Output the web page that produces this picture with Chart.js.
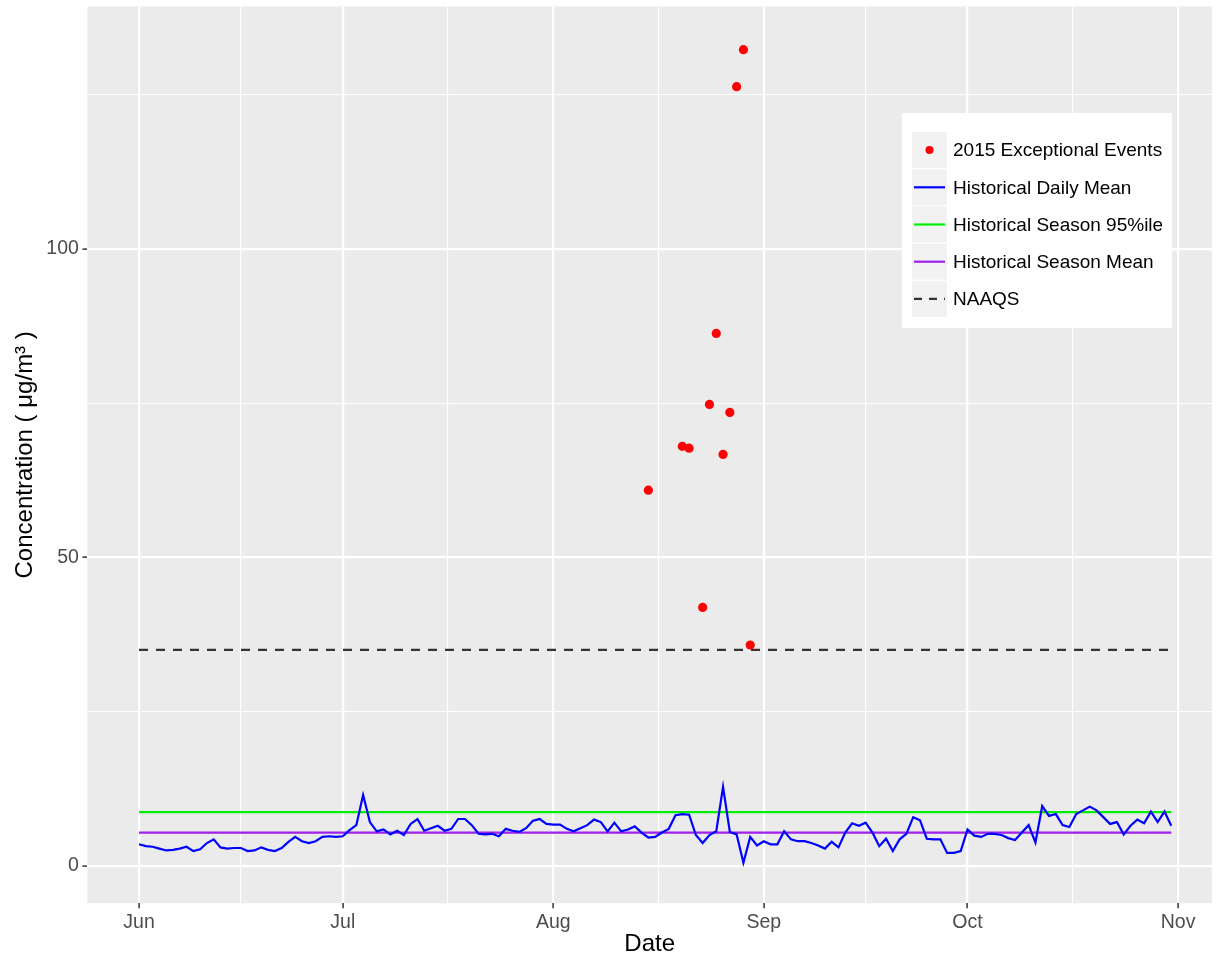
<!DOCTYPE html>
<html>
<head>
<meta charset="utf-8">
<title>PM2.5 concentration, summer 2015</title>
<script src="https://cdn.jsdelivr.net/npm/chart.js@4.4.0/dist/chart.umd.min.js"></script>
<style>
  body { margin: 0; background: #fff; }
  #chart { display: block; }
</style>
</head>
<body>
<canvas id="chart" width="1225" height="963"></canvas>
<script>
// data
const seriesStart = '2015-06-01';

// historical daily mean, Jun 1 .. Oct 31
const dailyMean = [
  3.5, 3.2, 3.1, 2.8, 2.5, 2.6, 2.8, 3.1, 2.4, 2.7, 3.7, 4.3, 3.0, 2.8, 2.9, 2.9, 2.4, 2.5, 3.0, 2.6,
  2.4, 2.9, 3.9, 4.7, 4.0, 3.7, 4.0, 4.7, 4.8, 4.7, 4.8,
  5.8, 6.6, 11.5, 7.1, 5.6, 5.9, 5.1, 5.7, 5.0, 6.8, 7.6, 5.7, 6.1, 6.5, 5.7, 6.0, 7.6, 7.6, 6.6, 5.2,
  5.1, 5.2, 4.8, 6.0, 5.7, 5.5, 6.1, 7.3, 7.6, 6.8, 6.7,
  6.7, 6.0, 5.6, 6.1, 6.6, 7.5, 7.1, 5.6, 7.0, 5.6, 5.9, 6.4, 5.4, 4.6, 4.7, 5.4, 6.0, 8.2, 8.4, 8.3,
  5.0, 3.7, 5.0, 5.6, 12.8, 5.5, 5.1, 0.5, 4.7, 3.3, 4.0,
  3.5, 3.5, 5.6, 4.3, 4.0, 4.0, 3.7, 3.3, 2.8, 3.9, 3.0, 5.4, 6.9, 6.5, 7.0, 5.4, 3.2, 4.4, 2.4, 4.3,
  5.2, 7.9, 7.4, 4.4, 4.3, 4.3, 2.1, 2.1, 2.4, 5.9,
  4.9, 4.7, 5.2, 5.2, 5.0, 4.5, 4.2, 5.4, 6.6, 3.8, 9.7, 8.1, 8.4, 6.6, 6.3, 8.4, 9.0, 9.6, 9.0, 7.9,
  6.8, 7.1, 5.1, 6.5, 7.5, 6.9, 8.8, 7.1, 8.8, 6.5
];

// 2015 exceptional events
const eventDates = ['2015-08-15', '2015-08-20', '2015-08-21', '2015-08-23', '2015-08-24', '2015-08-25',
                    '2015-08-26', '2015-08-27', '2015-08-28', '2015-08-29', '2015-08-30'];
const eventValues = [60.9, 68.0, 67.7, 41.9, 74.8, 86.3, 66.7, 73.5, 126.3, 132.3, 35.8];

const seasonP95 = 8.7;
const seasonMean = 5.4;
const naaqs = 35;

const monthDates = ['2015-06-01', '2015-07-01', '2015-08-01', '2015-09-01', '2015-10-01', '2015-11-01'];
const monthLabels = ['Jun', 'Jul', 'Aug', 'Sep', 'Oct', 'Nov'];
const yTickValues = [0, 50, 100];

const legendLabels = ['2015 Exceptional Events', 'Historical Daily Mean', 'Historical Season 95%ile',
                      'Historical Season Mean', 'NAAQS'];

// days since Jun 1
function dayOf(iso) {
    const p = iso.split('-').map(Number);
    const p0 = seriesStart.split('-').map(Number);
    return (Date.UTC(p[0], p[1] - 1, p[2]) - Date.UTC(p0[0], p0[1] - 1, p0[2])) / 86400000;
}

const monthDays = monthDates.map(dayOf);
const lastDay = dailyMean.length - 1;

// ggplot puts minor lines halfway between the major ones
function withMinor(major) {
    const all = [];
    major.forEach((v, i) => {
        all.push(v);
        if (i < major.length - 1) all.push((v + major[i + 1]) / 2);
    });
    return all;
}
const xGridDays = withMinor(monthDays);
const yGridValues = withMinor(yTickValues).concat([yTickValues[yTickValues.length - 1] + 25]);

const dailyPoints = dailyMean.map((v, i) => ({ x: i, y: v }));
const eventPoints = eventDates.map((d, i) => ({ x: dayOf(d), y: eventValues[i] }));
const flat = (v) => [{ x: 0, y: v }, { x: lastDay, y: v }];

const colors = ['#FF0000', '#0000FF', '#00EE00', '#A020F0', '#333333'];

Chart.defaults.font.family = "'Liberation Sans', Arial, sans-serif";

const panelBg = {
    id: 'panelBg',
    beforeDraw(chart) {
        const a = chart.chartArea;
        const ctx = chart.ctx;
        ctx.save();
        ctx.fillStyle = '#EBEBEB';
        ctx.fillRect(a.left, a.top, a.right - a.left, a.bottom - a.top);
        ctx.restore();
    }
};

// legend box sitting inside the panel, ggplot style
const insideLegend = {
    id: 'insideLegend',
    afterDraw(chart) {
        const ctx = chart.ctx;
        const x0 = 902, y0 = 113, w = 270, h = 215;
        const keyX = 912, keyW = 35, rowTop = 132, rowH = 37.2;
        ctx.save();
        ctx.fillStyle = '#fff';
        ctx.fillRect(x0, y0, w, h);
        legendLabels.forEach((label, i) => {
            const top = rowTop + i * rowH;
            const cy = top + rowH / 2 - 0.5;
            ctx.fillStyle = '#F2F2F2';
            ctx.fillRect(keyX, top, keyW, rowH - 1.2);
            ctx.strokeStyle = colors[i];
            ctx.fillStyle = colors[i];
            ctx.lineWidth = 2.2;
            if (i === 0) {
                ctx.beginPath();
                ctx.arc(keyX + keyW / 2, cy, 4, 0, Math.PI * 2);
                ctx.fill();
            } else {
                ctx.setLineDash(i === 4 ? [8, 7] : []);
                ctx.beginPath();
                ctx.moveTo(keyX + 2, cy);
                ctx.lineTo(keyX + keyW - 2, cy);
                ctx.stroke();
                ctx.setLineDash([]);
            }
            ctx.fillStyle = '#000';
            ctx.font = "19px 'Liberation Sans', Arial, sans-serif";
            ctx.textBaseline = 'middle';
            ctx.textAlign = 'left';
            ctx.fillText(label, 953, cy + 1);
        });
        ctx.restore();
    }
};

const lineStyle = (color) => ({
    borderColor: color,
    borderWidth: 2.2,
    pointRadius: 0,
    fill: false,
    tension: 0,
    showLine: true
});

// minor ticks get no label, so keep their font tiny to stop them padding the layout
const tickFont = (majors) => (c) => ({ size: majors.includes(c.tick && c.tick.value) ? 19.5 : 1 });

new Chart(document.getElementById('chart'), {
    type: 'scatter',
    data: {
        datasets: [
            {
                label: legendLabels[0],
                data: eventPoints,
                backgroundColor: colors[0],
                borderWidth: 0,
                pointRadius: 4.6,
                showLine: false
            },
            Object.assign({ label: legendLabels[1], data: dailyPoints }, lineStyle(colors[1])),
            Object.assign({ label: legendLabels[2], data: flat(seasonP95) }, lineStyle(colors[2])),
            Object.assign({ label: legendLabels[3], data: flat(seasonMean) }, lineStyle(colors[3])),
            Object.assign({ label: legendLabels[4], data: flat(naaqs), borderDash: [9, 8] }, lineStyle(colors[4]))
        ]
    },
    options: {
        responsive: false,
        animation: false,
        layout: { padding: { top: 6.5, right: 13, left: 0, bottom: 0 } },
        plugins: {
            legend: { display: false },
            tooltip: { enabled: false }
        },
        scales: {
            x: {
                type: 'linear',
                min: -7.6,
                max: 158,
                afterBuildTicks(scale) {
                    scale.ticks = xGridDays.map(v => ({ value: v }));
                },
                afterFit(scale) { scale.height = 59.8; },
                ticks: {
                    autoSkip: false,
                    maxRotation: 0,
                    color: '#4D4D4D',
                    font: tickFont(monthDays),
                    padding: 3,
                    callback(v) {
                        const i = monthDays.indexOf(v);
                        return i >= 0 ? monthLabels[i] : '';
                    }
                },
                grid: {
                    color: '#FFFFFF',
                    lineWidth: (c) => monthDays.includes(c.tick && c.tick.value) ? 2.2 : 1.1,
                    tickLength: 5,
                    tickWidth: 1.5,
                    tickColor: (c) => monthDays.includes(c.tick && c.tick.value) ? '#333333' : 'rgba(0,0,0,0)'
                },
                border: { display: false },
                title: {
                    display: true,
                    text: 'Date',
                    color: '#000',
                    font: { size: 24 },
                    padding: { top: 0, bottom: 4.6 }
                }
            },
            y: {
                type: 'linear',
                min: -6.05,
                max: 139.3,
                afterBuildTicks(scale) {
                    scale.ticks = yGridValues.map(v => ({ value: v }));
                },
                afterFit(scale) { scale.width = 87.4; },
                ticks: {
                    autoSkip: false,
                    color: '#4D4D4D',
                    font: tickFont(yTickValues),
                    padding: 3.5,
                    callback(v) {
                        return yTickValues.includes(v) ? String(v) : '';
                    }
                },
                grid: {
                    color: '#FFFFFF',
                    lineWidth: (c) => yTickValues.includes(c.tick && c.tick.value) ? 2.2 : 1.1,
                    tickLength: 5,
                    tickWidth: 1.5,
                    tickColor: (c) => yTickValues.includes(c.tick && c.tick.value) ? '#333333' : 'rgba(0,0,0,0)'
                },
                border: { display: false },
                title: {
                    display: true,
                    text: 'Concentration ( μg/m³ )',
                    color: '#000',
                    font: { size: 24 },
                    padding: { top: 10.6, bottom: 0 }
                }
            }
        }
    },
    plugins: [panelBg, insideLegend]
});
</script>
</body>
</html>
